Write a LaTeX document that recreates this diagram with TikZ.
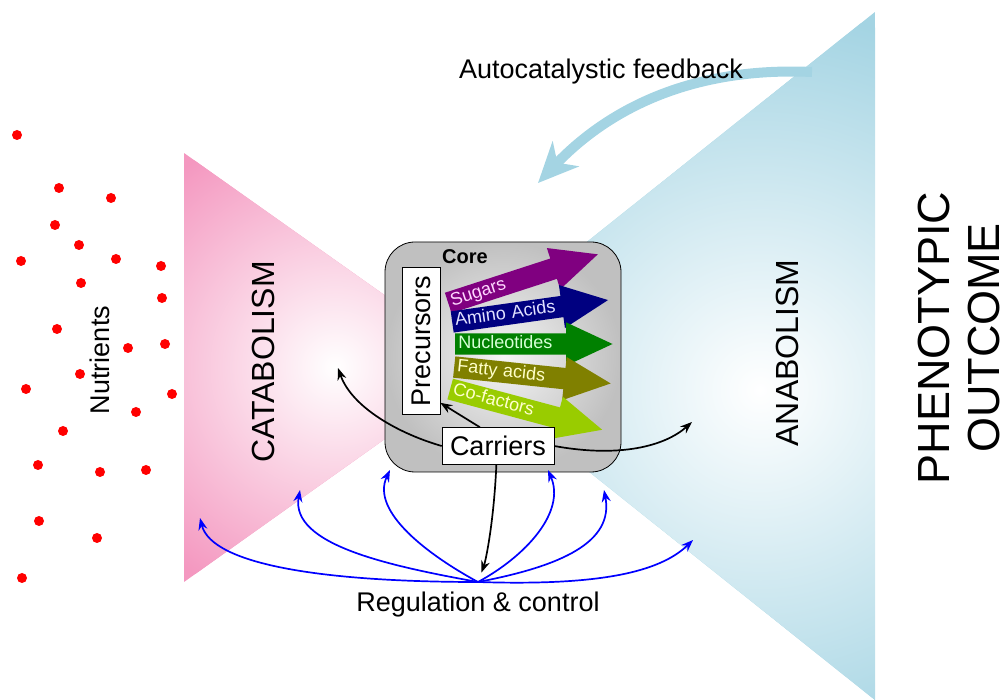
\documentclass[tikz,border=0pt]{standalone}
\usepackage{fontspec}
\setmainfont{Liberation Sans}
\usepackage{xcolor}
\usepackage{tikz}
\usetikzlibrary{shapes,arrows.meta,positioning}

\definecolor{catapink}{RGB}{244,152,192}
\definecolor{anablue}{RGB}{164,212,227}
\definecolor{coregray}{RGB}{192,192,192}
\definecolor{sugarcol}{RGB}{128,0,128}
\definecolor{aminocol}{RGB}{0,0,128}
\definecolor{nuclcol}{RGB}{0,128,0}
\definecolor{fattycol}{RGB}{128,128,0}
\definecolor{cofaccol}{RGB}{153,204,0}

\begin{document}
\begin{tikzpicture}[x=1pt, y=-1pt,
    ctl/.style={-{Stealth[length=12pt,width=9pt,inset=4pt]}, line width=1.7pt},
    reg/.style={ctl, blue},
    flow/.style={single arrow, single arrow head extend=11pt, single arrow tip angle=50,
        text width=128pt, align=left, text height=12pt, text depth=3pt,
        inner xsep=3pt, inner ysep=3pt, anchor=tail, font=\fontsize{18}{18}\selectfont},
    box/.style={draw, fill=white, inner sep=0pt, line width=0.6pt, font=\fontsize{27}{27}\selectfont},
    label/.style={font=\fontsize{#1}{#1}\selectfont}]
        \useasboundingbox (0,0) rectangle (1005,700);

        % Catabolism wedge
        \begin{scope}
            \clip (184,153) -- (184,582) -- (486,367) -- cycle;
            \fill[catapink] (184,153) rectangle (486,582);
            \shade[inner color=white, outer color=catapink] (335,367) circle (250pt);
        \end{scope}

        % Anabolism wedge
        \begin{scope}
            \clip (875,12) -- (875,700) -- (444,356) -- cycle;
            \fill[anablue] (444,12) rectangle (875,700);
            \shade[inner color=white, outer color=anablue] (760,390) circle (380pt);
        \end{scope}

        % Autocatalytic feedback
        \coordinate (fbstart) at (812,72);
        \coordinate (fbtip) at (538,183);
        \draw[anablue, line width=10pt, -{Stealth[length=40pt,width=36pt,inset=12pt]}]
            (fbstart) .. controls (680,66) and (600,118) .. (fbtip);
        \node[label=27] (feedback) at (601,72) {Autocatalystic feedback};

        % Nutrients
        \foreach \x/\y in {17/135, 59/188, 111/198, 55/225, 79/245, 21/261, 116/259, 161/266,
                81/283, 162/298, 57/329, 128/348, 165/344, 26/389, 80/374, 172/394, 136/412,
                63/431, 38/465, 100/472, 146/470, 39/521, 97/538, 22/578}
            \fill[red] (\x,\y) circle (5pt);
        \node[label=27, rotate=90] (nutrients) at (100,360) {Nutrients};

        \node[label=32, rotate=90] (cata) at (263,362) {CATABOLISM};
        \node[label=32, rotate=90] (ana) at (787,353) {ANABOLISM};
        \node[label=45, rotate=90, align=center, inner sep=0pt] (outcome) at (959,338)
            {PHENOTYPIC\\[5pt]OUTCOME};

        % Core
        \node[draw, rounded corners=30pt, inner color=gray!8, outer color=coregray,
            line width=0.8pt, minimum width=236pt, minimum height=230pt] (core) at (503,357) {};
        \node[font=\bfseries\fontsize{20}{20}\selectfont] (corelabel) at (465,257) {Core};

        \node[flow, fill=sugarcol, text={rgb,255:red,255;green,215;blue,255}, rotate=18] (sugars) at (448,303) {Sugars};
        \node[flow, fill=aminocol, text={rgb,255:red,225;green,225;blue,255}, rotate=8] (amino) at (452,322) {Amino Acids};
        \node[flow, fill=nuclcol, text={rgb,255:red,215;green,255;blue,215}, rotate=0] (nucl) at (455,344) {Nucleotides};
        \node[flow, fill=fattycol, text={rgb,255:red,255;green,255;blue,200}, rotate=-6] (fatty) at (454,367) {Fatty acids};
        \node[flow, fill=cofaccol, text={rgb,255:red,255;green,255;blue,205}, rotate=-15] (cofac) at (450,389) {Co-factors};

        \node[box, rotate=90, minimum width=147pt, minimum height=38pt] (prec) at (421,341) {Precursors};
        \node[box, minimum width=112pt, minimum height=37pt] (carriers) at (498,446) {Carriers};

        % Carriers
        \coordinate (catatip) at (338,368);
        \coordinate (anatip) at (692,422);
        \coordinate (hub) at (478,582);
        \draw[ctl] (carriers.west) .. controls (400,434) and (352,408) .. (catatip);
        \draw[ctl] (carriers.east) .. controls (620,458) and (665,446) .. (anatip);
        \draw[ctl] (carriers.134) -- ([yshift=12pt]prec.south west);
        \draw[ctl, shorten >=10pt] (carriers.265) .. controls (494,520) and (486,560) .. (hub);

        % Regulation & control
        \foreach \tx/\ty/\ax/\ay/\bx/\by in {200/518/330/582/212/566, 300/490/390/566/290/545,
                390/470/430/556/370/512, 548/470/526/556/566/512, 604/490/562/566/614/542,
                693/540/600/586/660/572}
            \draw[reg] (hub) .. controls (\ax,\ay) and (\bx,\by) .. (\tx,\ty);
        \node[label=27, below=6pt of hub] (regulation) {Regulation \& control};
    \end{tikzpicture}
\end{document}
